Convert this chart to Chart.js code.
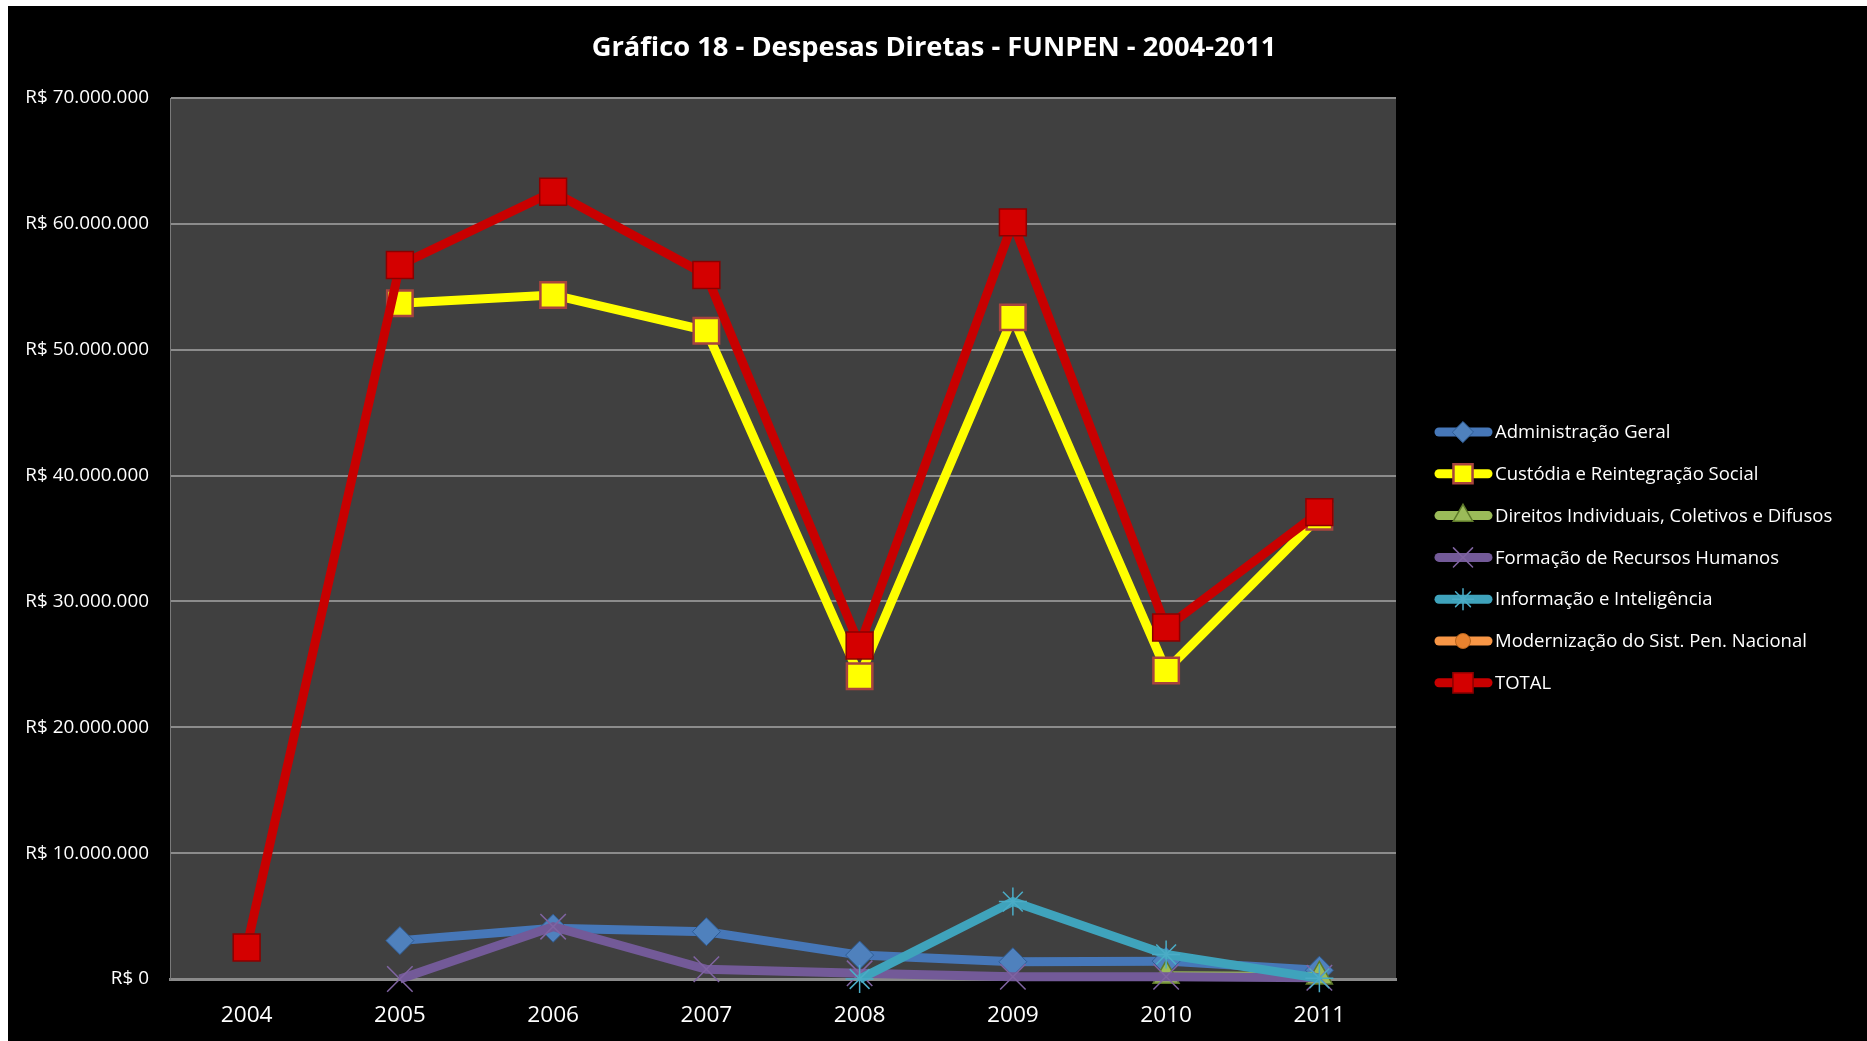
<!DOCTYPE html>
<html>
<head>
<meta charset="utf-8">
<script src="https://cdn.jsdelivr.net/npm/chart.js@4.4.0/dist/chart.umd.min.js"></script>
<style>
  html, body { margin: 0; padding: 0; background: #fff; }
  #wrap { position: absolute; left: 0; top: 0; width: 1867px; height: 1041px; }
</style>
</head>
<body>
<div id="wrap"><canvas id="despesasChart" width="1867" height="1041"></canvas></div>
<script>
const titulo = 'Gráfico 18 - Despesas Diretas - FUNPEN - 2004-2011';
const anos = ['2004', '2005', '2006', '2007', '2008', '2009', '2010', '2011'];

// valores em R$
const adminGeral   = [null, 3050000, 4030000, 3760000, 1900000, 1370000, 1420000, 700000];
const custodia     = [null, 53690000, 54350000, 51510000, 24050000, 52570000, 24520000, 36730000];
const direitos     = [null, null, null, null, null, null, 250000, 200000];
const formacao     = [null, 0, 4160000, 770000, 450000, 180000, 180000, 100000];
const informacao   = [null, null, null, null, 0, 6150000, 1950000, 50000];
const modernizacao = [null, null, null, null, null, null, null, null];
const total        = [2500000, 56730000, 62550000, 55940000, 26500000, 60120000, 27930000, 37100000];

const yMax = 70000000;
const yStep = 10000000;

function formatReal(v) {
    return 'R$ ' + String(v).replace(/\B(?=(\d{3})+(?!\d))/g, '.');
}

function serie(label, data, cor, estilo, raio, fundo, borda, bordaLarg, ordem) {
    return {
        label: label,
        data: data,
        borderColor: cor,
        borderWidth: 9,
        pointStyle: estilo,
        pointRadius: raio,
        pointHoverRadius: raio,
        pointBackgroundColor: fundo,
        pointBorderColor: borda,
        pointBorderWidth: bordaLarg,
        tension: 0,
        clip: false,
        order: ordem
    };
}

// fundo preto, área do gráfico cinza, título e legenda
const decoracao = {
    id: 'decoracao',
    beforeDraw(chart) {
        const ctx = chart.ctx;
        const a = chart.chartArea;
        ctx.save();
        ctx.fillStyle = '#000';
        ctx.fillRect(8, 6, chart.width - 8, chart.height - 6);
        ctx.fillStyle = '#404040';
        ctx.fillRect(a.left, a.top, a.right - a.left, a.bottom - a.top);
        ctx.restore();
    },
    afterDraw(chart) {
        const ctx = chart.ctx;
        ctx.save();
        ctx.fillStyle = '#fff';
        ctx.font = 'bold 27.3px "Open Sans"';
        ctx.textAlign = 'center';
        ctx.textBaseline = 'middle';
        ctx.fillText(titulo, 934, 48);

        ctx.font = '18.5px "Open Sans"';
        ctx.textAlign = 'left';
        chart.data.datasets.forEach((ds, i) => {
            const y = 432 + i * 41.8;
            ctx.strokeStyle = ds.borderColor;
            ctx.lineWidth = 9;
            ctx.lineCap = 'round';
            ctx.beginPath();
            ctx.moveTo(1439, y);
            ctx.lineTo(1488, y);
            ctx.stroke();
            ctx.fillStyle = ds.pointBackgroundColor;
            ctx.strokeStyle = ds.pointBorderColor;
            ctx.lineWidth = ds.pointBorderWidth;
            Chart.helpers.drawPoint(ctx, {
                pointStyle: ds.pointStyle,
                radius: ds.pointRadius * 0.75,
                rotation: 0,
                borderWidth: ds.pointBorderWidth
            }, 1463, y);
            ctx.fillStyle = '#fff';
            ctx.fillText(ds.label, 1495, y + 1);
        });
        ctx.restore();
    }
};

const ctx = document.getElementById('despesasChart').getContext('2d');
const myChart = new Chart(ctx, {
    type: 'line',
    data: {
        labels: anos,
        datasets: [
            serie('Administração Geral', adminGeral, '#4677b8', 'rectRot', 14, '#4f81bd', '#2f5d96', 1, 6),
            serie('Custódia e Reintegração Social', custodia, '#ffff00', 'rect', 18, '#ffff00', '#a8443e', 2.5, 5),
            serie('Direitos Individuais, Coletivos e Difusos', direitos, '#9bbb59', 'triangle', 15, '#9bbb59', '#5e7a2a', 1.5, 4),
            serie('Formação de Recursos Humanos', formacao, '#735a98', 'crossRot', 18, '#8064a2', '#8064a2', 1.5, 3),
            serie('Informação e Inteligência', informacao, '#3fa3bc', 'star', 14, '#4bacc6', '#4bacc6', 1.5, 2),
            serie('Modernização do Sist. Pen. Nacional', modernizacao, '#f79646', 'circle', 10, '#e8822e', '#b8641c', 1, 1),
            serie('TOTAL', total, '#c80000', 'rect', 19, '#d40000', '#8a0000', 1.5, 0)
        ]
    },
    options: {
        responsive: false,
        devicePixelRatio: 1,
        animation: false,
        layout: { padding: { left: 0, top: 98, right: 1867 - 1396, bottom: 0 } },
        plugins: {
            legend: { display: false },
            title: { display: false },
            tooltip: { enabled: false }
        },
        scales: {
            x: {
                offset: true,
                afterFit(axis) { axis.height = 1041 - 979; },
                grid: { display: false, drawTicks: false },
                border: { display: true, color: '#8a8a8a', width: 3 },
                ticks: {
                    color: '#fff',
                    padding: 23,
                    font: { family: 'Open Sans', size: 22.7 }
                }
            },
            y: {
                min: 0,
                max: yMax,
                afterFit(axis) { axis.width = 170; },
                grid: { color: '#8c8c8c', lineWidth: 2, drawTicks: false },
                border: { display: true, color: '#7a7a7a', width: 1 },
                ticks: {
                    stepSize: yStep,
                    color: '#fff',
                    padding: 21,
                    font: { family: 'Open Sans', size: 18.9 },
                    callback: v => formatReal(v)
                }
            }
        }
    },
    plugins: [decoracao]
});
</script>
</body>
</html>
